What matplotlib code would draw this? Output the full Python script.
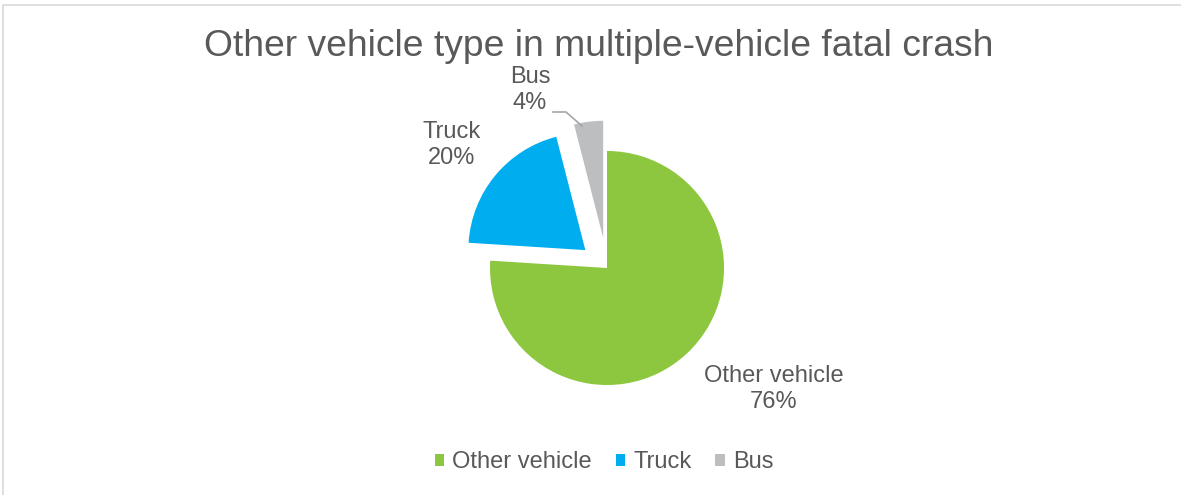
import matplotlib.pyplot as plt
from matplotlib.patches import Rectangle
from matplotlib.lines import Line2D

# data
categories = ["Other vehicle", "Truck", "Bus"]
shares = [76, 20, 4]
colors = ["#8DC63F", "#00AEEF", "#BCBEC0"]
explode = [0.0, 0.24, 0.26]

W, H = 1181, 495
plt.rcParams['font.family'] = ['Liberation Sans', 'DejaVu Sans']
txt = "#595959"

fig = plt.figure(figsize=(W / 100, H / 100), dpi=100)

# chart frame (only top and left edges fall inside the image)
fig.patches.append(Rectangle((3 / W, -0.1), 1.5, 1 - 5 / H + 0.1, transform=fig.transFigure,
                             fill=False, edgecolor="#D9D9D9", linewidth=1.2))

# pie axes laid out in pixel units (radius = 1)
cx, cy, r = 607, 268, 117
ax = fig.add_axes([0, 0, 1, 1])
ax.axis("off")

wedges, _ = ax.pie(shares, colors=colors, explode=explode, startangle=90,
                   counterclock=False, radius=1, center=(0, 0),
                   wedgeprops=dict(linewidth=0))
ax.set_xlim(-cx / r, (W - cx) / r)
ax.set_ylim(-(H - cy) / r, cy / r)

def px(x, y):
    return x / W, 1 - y / H

# data labels
label_pos = [(774, 389), (452, 145), (530, 90)]
for name, val, (x, y) in zip(categories, shares, label_pos):
    fig.text(*px(x, y), f"{name}\n{val}%", ha="center", va="center",
             fontsize=17, color=txt, linespacing=1.25)

# leader line for Bus
lx = [553, 566, 582]
ly = [112, 112, 126]
fig.add_artist(Line2D([a / W for a in lx], [1 - b / H for b in ly],
                      transform=fig.transFigure, color="#A6A6A6", linewidth=1.2))

# title
fig.text(*px(599, 47), "Other vehicle type in multiple-vehicle fatal crash",
         ha="center", va="center", fontsize=26.8, color=txt)

# legend
leg = fig.legend(wedges, categories, loc="center", bbox_to_anchor=px(604, 462),
                 ncol=3, frameon=False, fontsize=17, handlelength=0.4,
                 handleheight=0.4, handletextpad=0.35, columnspacing=1.0,
                 labelcolor=txt)

fig.savefig("out.png", dpi=100)
